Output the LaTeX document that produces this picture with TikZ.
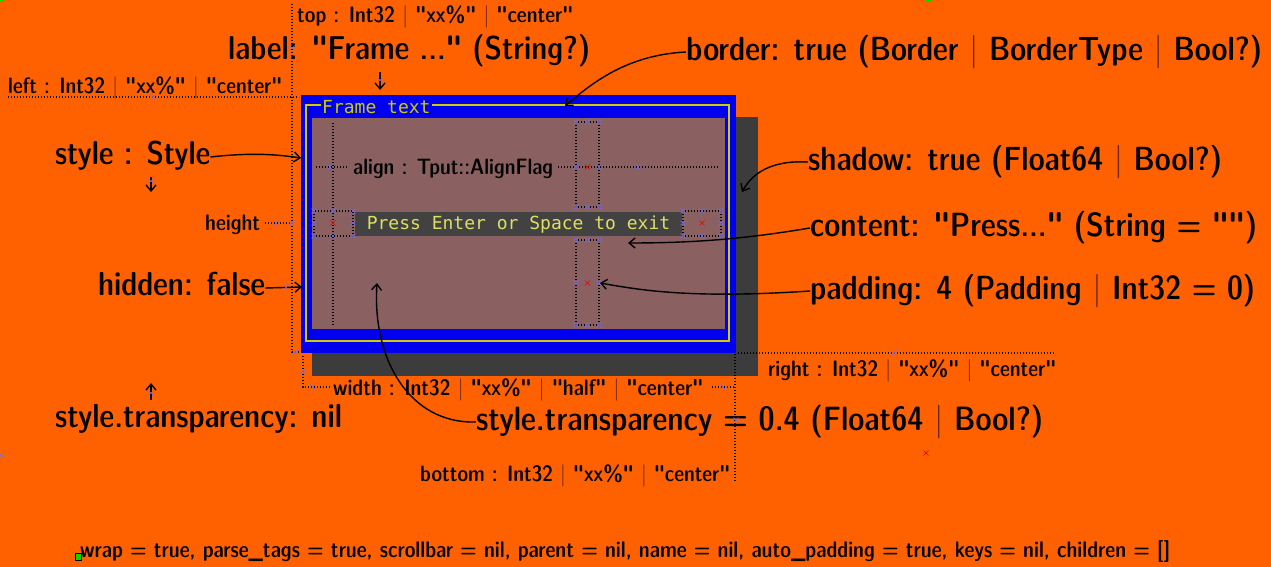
\documentclass[tikz,border=0pt]{standalone}
\usepackage{fontspec}
\setmonofont{DejaVu Sans Mono}
\newfontfamily\lmdc{Latin Modern Sans Demi Cond}
\usetikzlibrary{arrows.meta}
\definecolor{bg}{RGB}{255,96,0}
\definecolor{frblue}{RGB}{0,0,238}
\definecolor{mauve}{RGB}{138,96,96}
\definecolor{shadowgray}{RGB}{60,60,60}
\definecolor{barbg}{RGB}{66,66,66}
\definecolor{fryel}{RGB}{205,205,0}
\definecolor{txyel}{RGB}{222,222,100}
\definecolor{vbar}{RGB}{110,40,0}
\definecolor{mkblue}{RGB}{110,110,255}
\definecolor{mkred}{RGB}{230,0,0}
\definecolor{mkgreen}{RGB}{0,220,0}
\newcommand{\vb}{\textcolor{vbar}{|}}
\newcommand{\fit}[2]{\resizebox{#1pt}{!}{\lmdc\strut #2}}
\tikzset{
  lab/.style={inner sep=0pt, anchor=west, text=black, yshift=-2pt},
  dots/.style={draw=black, line width=1.2pt, dash pattern=on 1.4pt off 1.6pt},
  arr/.style={draw=black, line width=1.4pt, -{Straight Barb[length=6pt,width=10pt,line width=1.4pt]}},
  mono/.style={inner sep=0pt, font=\ttfamily\fontsize{18}{18}\selectfont},
}
\newcommand{\mk}[3]{\draw[#1, line width=0.6pt] (#2-2.5,#3-2.5) -- (#2+2.5,#3+2.5) (#2-2.5,#3+2.5) -- (#2+2.5,#3-2.5);}
\begin{document}
\begin{tikzpicture}[x=1pt,y=-1pt]
\fill[bg] (0,0) rectangle (1271,567);
\useasboundingbox (0,0) rectangle (1271,567);

% frame with shadow
\fill[shadowgray] (312,117) rectangle (758,376);
\fill[frblue] (301,95) rectangle (736,353);
\draw[fryel, line width=2pt] (306,105.5) rectangle (729,341);
\fill[mauve] (312,118) rectangle (725,329);
\node[mono, text=fryel, fill=frblue, inner xsep=1pt, anchor=west] (frtext) at (321,107) {Frame text};
\fill[barbg] (355,212) rectangle (682,236);
\node[mono, text=txyel, anchor=center] (press) at (518.5,225) {Press Enter or Space to exit};

% inner dotted guides
\draw[dots] (333,123) -- (333,326);
\draw[dots] (316,167) -- (347,167);
\draw[dots] (558,167) -- (719,167);
\draw[dots] (576,122) rectangle (599,207);
\draw[dots] (576,240) rectangle (599,325);
\draw[dots] (314,211) rectangle (353,236);
\draw[dots] (683,211) rectangle (721,236);
\node[lab] (align) at (353,167) {\fit{200}{align : Tput::AlignFlag}};

% outer dotted guides
\draw[dots] (292,4) -- (292,352) -- (301,352);
\draw[dots] (8,97) -- (299,97);
\draw[dots] (265,223) -- (292,223);
\draw[dots] (303,356) -- (303,387) -- (330,387);
\draw[dots] (712,387) -- (735,387);
\draw[dots] (735,354) -- (735,481);
\draw[dots] (738,353) -- (1055,353);

% small labels
\node[lab] (top) at (297,15) {\fit{276}{top : Int32 \vb\ "xx\%" \vb\ "center"}};
\node[lab] (left) at (8,86) {\fit{274}{left : Int32 \vb\ "xx\%" \vb\ "center"}};
\node[lab] (height) at (205,223) {\fit{55}{height}};
\node[lab] (right) at (768,369) {\fit{288}{right : Int32 \vb\ "xx\%" \vb\ "center"}};
\node[lab] (width) at (333,388) {\fit{370}{width : Int32 \vb\ "xx\%" \vb\ "half" \vb\ "center"}};
\node[lab] (bottom) at (420,474) {\fit{310}{bottom : Int32 \vb\ "xx\%" \vb\ "center"}};

% big labels
\node[lab] (label) at (228,50) {\fit{362}{label: "Frame ..." (String?)}};
\node[lab] (border) at (686,50) {\fit{576}{border: true (Border \vb\ BorderType \vb\ Bool?)}};
\node[lab] (style) at (55,155) {\fit{155}{style : Style}};
\node[lab] (shadow) at (808,160) {\fit{414}{shadow: true (Float64 \vb\ Bool?)}};
\node[lab] (content) at (810,226) {\fit{447}{content: "Press..." (String = "")}};
\node[lab] (hidden) at (98,286) {\fit{167}{hidden: false}};
\node[lab] (padding) at (810,289) {\fit{445}{padding: 4 (Padding \vb\ Int32 = 0)}};
\node[lab] (nil) at (55,418) {\fit{287}{style.transparency: nil}};
\node[lab] (trans) at (476,420) {\fit{567}{style.transparency = 0.4 (Float64 \vb\ Bool?)}};
\node[lab] (misc) at (80,550) {\fit{1090}{wrap = true, parse\_tags = true, scrollbar = nil, parent = nil, name = nil, auto\_padding = true, keys = nil, children = []}};

% arrow targets
\coordinate (labtip) at (380,90);
\coordinate (bordtip) at (565,106);
\coordinate (styletip) at (301,158);
\coordinate (stdown) at (151,192);
\coordinate (shtip) at (742,192);
\coordinate (cttip) at (628,243);
\coordinate (padtip) at (600,283);
\coordinate (hidtip) at (302,287);
\coordinate (tratip) at (377,283);
\coordinate (nilup) at (151,383);

% arrows
\draw[arr] (label.south -| labtip) -- (labtip);
\draw[arr] (border.west) .. controls (625,55) and (590,85) .. (bordtip);
\draw[arr] (style.east) .. controls (255,152) and (280,155) .. (styletip);
\draw[arr] (style.south -| stdown) -- (stdown);
\draw[arr] (shadow.west) .. controls (770,160) and (752,174) .. (shtip);
\draw[arr] (content.west) .. controls (750,238) and (700,243) .. (cttip);
\draw[arr] (padding.west) .. controls (690,299) and (640,290) .. (padtip);
\draw[arr] (hidden.east) -- (hidtip);
\draw[arr] (trans.west) .. controls (410,424) and (372,360) .. (tratip);
\draw[arr] (nil.north -| nilup) -- (nilup);

% markers
\foreach \x/\y in {576/122,587.5/122,599/122,576/207,587.5/207,599/207,576/167,599/167,
  576/240,587.5/240,599/240,576/325,587.5/325,599/325,576/283,599/283,
  314/211,333/211,353/211,314/236,333/236,353/236,314/223,353/223,
  683/211,702/211,721/211,683/236,702/236,721/236,683/223,721/223,
  330/167,638/167,151/181,292/48,153/97,380/80,276/223,292/223,286/287,
  295/352,303/372,313/387,723/387,151/393,736/420,894/353,1/455}
  {\mk{mkblue}{\x}{\y}}
\foreach \x/\y in {587.5/167,587.5/283,333/223,702/223,926/453}
  {\mk{mkred}{\x}{\y}}
\draw[black, fill=mkgreen, line width=0.6pt] (75,553) rectangle (81,560);
\fill[mkgreen] (925,0) rectangle (931,2);
\fill[mkgreen] (0,0) rectangle (3,2);
\end{tikzpicture}
\end{document}
